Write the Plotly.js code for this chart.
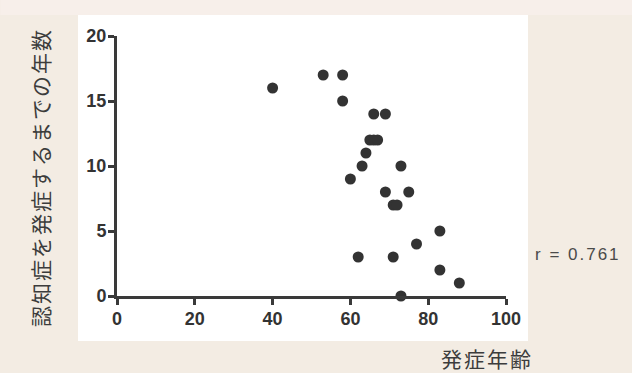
<!DOCTYPE html>
<html>
<head>
<meta charset="utf-8">
<script src="https://cdn.plot.ly/plotly-3.0.1.min.js"></script>
<style>
html, body { margin: 0; padding: 0; background: #f3ece3; }
#chart { width: 632px; height: 373px; }
g.annotation[data-index="0"] text { letter-spacing: 2px; }
g.annotation[data-index="1"] text { letter-spacing: 2px; }
g.annotation[data-index="2"] text { letter-spacing: 2px; }
</style>
</head>
<body>
<div id="chart"></div>
<script>
// Data
var onsetAge = [40, 53, 58, 58, 66, 69, 65, 66, 67, 64, 63, 73, 60, 69, 75, 71, 72, 83, 77, 62, 71, 83, 88, 73];
var yearsToDementia = [16, 17, 17, 15, 14, 14, 12, 12, 12, 11, 10, 10, 9, 8, 8, 7, 7, 5, 4, 3, 3, 2, 1, 0];
var xTickVals = [0, 20, 40, 60, 80, 100];
var yTickVals = [0, 5, 10, 15, 20];
var yTitle = '認知症を発症するまでの年数';
var xTitle = '発症年齢';
var rLabel = 'r = 0.761';

var axisColor = '#3a3a3a';
var tickFont = {family: 'Liberation Sans, Arial, sans-serif', size: 18, color: '#333333', weight: 'bold'};
var cjkFont = {family: 'Noto Sans CJK JP, sans-serif', size: 21, color: '#3c3c3c'};

var trace = {
  x: onsetAge,
  y: yearsToDementia,
  type: 'scatter',
  mode: 'markers',
  cliponaxis: false,
  marker: {size: 11, color: '#333333'},
  hoverinfo: 'none'
};

var layout = {
  width: 632,
  height: 373,
  margin: {l: 117, r: 126, t: 36, b: 77, pad: 0},
  paper_bgcolor: '#f3ece3',
  plot_bgcolor: '#ffffff',
  showlegend: false,
  xaxis: {
    range: [0, 100],
    tickvals: xTickVals,
    ticktext: xTickVals.map(String),
    showgrid: false,
    zeroline: false,
    showline: true,
    linecolor: axisColor,
    linewidth: 3,
    ticks: 'outside',
    ticklen: 6,
    tickwidth: 3,
    tickcolor: axisColor,
    tickfont: tickFont,
    ticklabelstandoff: -2,
    fixedrange: true
  },
  yaxis: {
    range: [0, 20],
    tickvals: yTickVals,
    ticktext: yTickVals.map(String),
    showgrid: false,
    zeroline: false,
    showline: true,
    linecolor: axisColor,
    linewidth: 3,
    ticks: 'outside',
    ticklen: 6,
    tickwidth: 3,
    tickcolor: axisColor,
    tickfont: tickFont,
    ticklabelstandoff: -2,
    fixedrange: true
  },
  shapes: [
    {type: 'rect', xref: 'paper', yref: 'paper', x0: -0.3, x1: 1.33, y0: 1.081, y1: 1.15,
     fillcolor: '#f7efea', line: {width: 0}, layer: 'below'},
    {type: 'rect', xref: 'paper', yref: 'paper', x0: -0.1003, x1: 1.0566, y0: -0.173, y1: 1.081,
     fillcolor: '#ffffff', line: {width: 0}, layer: 'below'}
  ],
  annotations: [
    {text: yTitle, xref: 'paper', yref: 'paper', x: -0.198, y: 0.458, textangle: -90,
     showarrow: false, font: cjkFont, xanchor: 'center', yanchor: 'middle'},
    {text: xTitle, xref: 'paper', yref: 'paper', x: 0.951, y: -0.238,
     showarrow: false, font: cjkFont, xanchor: 'center', yanchor: 'middle'},
    {text: rLabel, xref: 'paper', yref: 'paper', x: 1.185, y: 0.158,
     showarrow: false, font: {family: 'Liberation Sans, Arial, sans-serif', size: 17, color: '#4a4a4a'},
     xanchor: 'center', yanchor: 'middle'}
  ]
};

Plotly.newPlot('chart', [trace], layout, {displayModeBar: false, staticPlot: true});
</script>
</body>
</html>
